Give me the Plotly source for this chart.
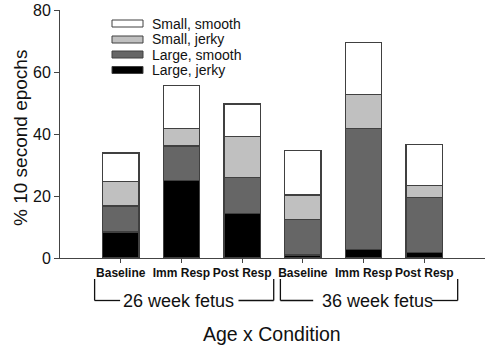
import plotly.graph_objects as go

conditions = ["Baseline", "Imm Resp", "Post Resp", "Baseline", "Imm Resp", "Post Resp"]
positions = [0, 1, 2, 3, 4, 5]
large_jerky = [8.4, 24.9, 14.3, 1.0, 2.7, 1.9]
large_smooth = [8.4, 11.2, 11.7, 11.5, 39.1, 17.7]
small_jerky = [7.9, 5.7, 13.3, 7.8, 11.0, 3.7]
small_smooth = [9.2, 13.8, 10.4, 14.3, 16.8, 13.2]
series_names = ["Large, jerky", "Large, smooth", "Small, jerky", "Small, smooth"]
series_colors = ["#000000", "#666666", "#c0c0c0", "#ffffff"]
age_groups = ["26 week fetus", "36 week fetus"]

FONT = "Arial, Liberation Sans, sans-serif"
W, H = 490, 349
ML, MR, MT, MB = 60, 5, 10, 91
PW, PH = W - ML - MR, H - MT - MB

fig = go.Figure()
for name, vals, col in zip(series_names, [large_jerky, large_smooth, small_jerky, small_smooth], series_colors):
    fig.add_trace(go.Bar(x=positions, y=vals, name=name, width=0.6,
                         marker=dict(color=col, line=dict(color="#404040", width=1.2)),
                         showlegend=False))

def px_to_paper(px, py):
    return (px - ML) / PW, (H - MB - py) / PH

shapes = []
annotations = []
# custom legend (top-down: Small smooth, Small jerky, Large smooth, Large jerky)
legend_rows = [(23.5, 3), (39.5, 2), (54.5, 1), (70, 0)]
for py, idx in legend_rows:
    x0, y0 = px_to_paper(112, py - 3.5)
    x1, y1 = px_to_paper(143, py + 3.5)
    shapes.append(dict(type="rect", xref="paper", yref="paper", x0=x0, x1=x1, y0=y1, y1=y0,
                       fillcolor=series_colors[idx], line=dict(color="#404040", width=1)))
    tx, ty = px_to_paper(150, py)
    annotations.append(dict(text=series_names[idx], xref="paper", yref="paper", x=tx, y=ty,
                            xanchor="left", yanchor="middle", showarrow=False,
                            font=dict(family=FONT, size=14, color="#111")))

# brackets for age groups
def seg(xa, xb, ya, yb):
    shapes.append(dict(type="line", xref="x", yref="paper", x0=xa, x1=xb, y0=ya, y1=yb,
                       line=dict(color="#111", width=1.3)))

y_top = px_to_paper(0, 279)[1]
y_bot = px_to_paper(0, 300.5)[1]
brackets = [(-0.43, -0.01, 1.94, 2.52, 0.95), (2.63, 3.17, 5.12, 5.55, 4.23)]
for (l, la, rb, r, tc), label in zip(brackets, age_groups):
    seg(l, l, y_top, y_bot)
    seg(l, la, y_bot, y_bot)
    seg(rb, r, y_bot, y_bot)
    seg(r, r, y_bot, y_top)
    annotations.append(dict(text=label, xref="x", yref="paper", x=tc, y=y_bot,
                            xanchor="center", yanchor="middle", showarrow=False,
                            font=dict(family=FONT, size=18, color="#111")))

ax, ay = px_to_paper(272, 334)
annotations.append(dict(text="Age x Condition", xref="paper", yref="paper", x=ax, y=ay,
                        xanchor="center", yanchor="middle", showarrow=False,
                        font=dict(family=FONT, size=19.5, color="#111")))
tx, ty = px_to_paper(20, 138)
annotations.append(dict(text="% 10 second epochs", xref="paper", yref="paper", x=tx, y=ty,
                        xanchor="center", yanchor="middle", textangle=-90, showarrow=False,
                        font=dict(family=FONT, size=19, color="#111")))

fig.update_layout(
    barmode="stack",
    width=W, height=H,
    margin=dict(l=ML, r=MR, t=MT, b=MB, autoexpand=False),
    paper_bgcolor="white", plot_bgcolor="white",
    shapes=shapes, annotations=annotations,
    font=dict(family=FONT, color="#111"),
)
fig.update_xaxes(range=[-1, 6], tickmode="array", tickvals=positions, ticktext=conditions,
                 tickfont=dict(family=FONT, size=12, weight="bold", color="#111"),
                 ticks="outside", ticklen=4, tickcolor="#444", showline=True, linecolor="#444",
                 linewidth=1, showgrid=False, zeroline=False, fixedrange=True)
fig.update_yaxes(range=[0, 80], tickvals=[0, 20, 40, 60, 80],
                 tickfont=dict(family=FONT, size=16, color="#111"),
                 ticks="outside", ticklen=5, tickcolor="#444", showline=True, linecolor="#444",
                 linewidth=1, showgrid=False, zeroline=False, fixedrange=True)

fig.write_html("out.html", config={"displayModeBar": False},
               post_script="document.body.style.margin='0';document.body.style.overflow='hidden';")
